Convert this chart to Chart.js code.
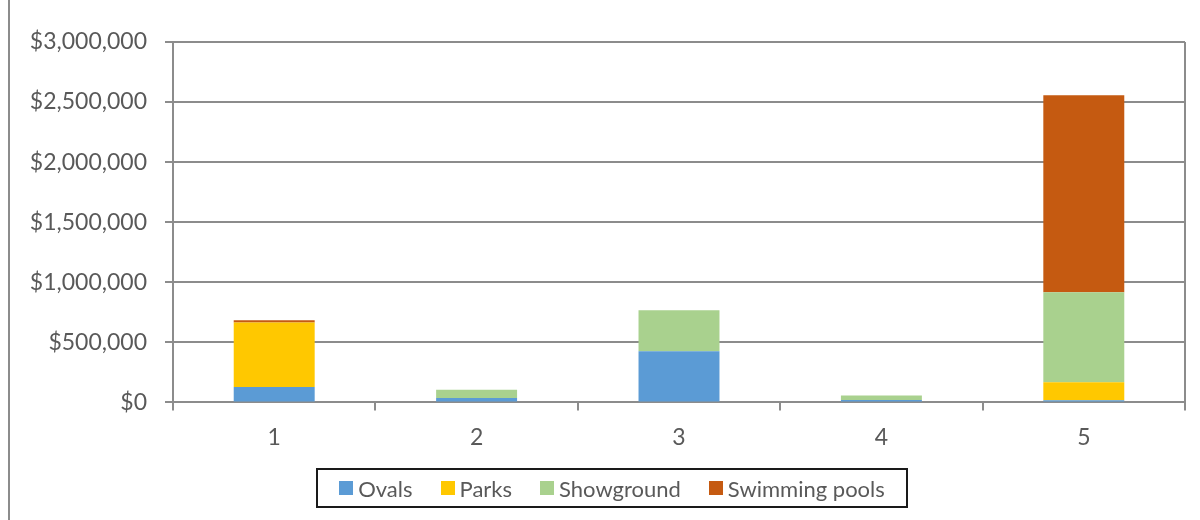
<!DOCTYPE html>
<html>
<head>
<meta charset="utf-8">
<script src="https://cdn.jsdelivr.net/npm/chart.js@4/dist/chart.umd.min.js"></script>
<style>
  html, body { margin: 0; padding: 0; background: #fff; }
  #wrap { position: relative; width: 1200px; height: 520px; overflow: hidden; }
  #frame { position: absolute; left: 8px; top: -10px; width: 1300px; height: 600px; border: 2px solid #8c8c8c; box-sizing: border-box; }
  #legend {
    position: absolute; left: 316px; top: 468px; width: 592px; height: 40px;
    border: 2px solid #1a1a1a; box-sizing: border-box;
    display: flex; align-items: center; justify-content: center; gap: 28px;
    font-family: Lato, "Noto Sans", sans-serif; font-size: 22px; color: #595959;
  }
  #legend span.item { display: flex; align-items: center; }
  #legend i { display: inline-block; width: 14px; height: 14px; margin-right: 5px; }
</style>
</head>
<body>
<div id="wrap">
  <div id="frame"></div>
  <canvas id="c" width="1200" height="520"></canvas>
  <div id="legend"></div>
</div>
<script>
const categories = ["1", "2", "3", "4", "5"];
const ovals = [129000, 36000, 425000, 19000, 17000];
const parks = [537000, 0, 0, 0, 150000];
const showground = [0, 70000, 342000, 39000, 750000];
const swimmingPools = [17000, 0, 0, 0, 1639000];
const yTicks = [0, 500000, 1000000, 1500000, 2000000, 2500000, 3000000];

const series = [
  { label: "Ovals", data: ovals, color: "#5b9bd5" },
  { label: "Parks", data: parks, color: "#ffc800" },
  { label: "Showground", data: showground, color: "#a9d18e" },
  { label: "Swimming pools", data: swimmingPools, color: "#c55a11" },
];

const fontFamily = 'Lato, "Noto Sans", sans-serif';
const gridColor = "#8c8c8c";

// right edge of the plot area
const frameRight = {
  id: "frameRight",
  afterDraw(chart) {
    const { ctx, chartArea } = chart;
    ctx.save();
    ctx.strokeStyle = gridColor;
    ctx.lineWidth = 2;
    ctx.beginPath();
    ctx.moveTo(chartArea.right, chartArea.top);
    ctx.lineTo(chartArea.right, chartArea.bottom);
    ctx.stroke();
    ctx.restore();
  }
};

new Chart(document.getElementById("c").getContext("2d"), {
  type: "bar",
  data: {
    labels: categories,
    datasets: series.map(s => ({
      label: s.label,
      data: s.data,
      backgroundColor: s.color,
      borderWidth: 0,
      categoryPercentage: 1,
      barPercentage: 0.4,
    })),
  },
  options: {
    responsive: false,
    animation: false,
    devicePixelRatio: 1,
    layout: { padding: { left: 10, right: 15, top: 42, bottom: 56 } },
    plugins: { legend: { display: false }, tooltip: { enabled: false } },
    scales: {
      x: {
        stacked: true,
        grid: { drawOnChartArea: false, drawTicks: true, tickLength: 8, color: gridColor, lineWidth: 2, offset: true },
        border: { color: gridColor, width: 2 },
        ticks: { color: "#595959", font: { family: fontFamily, size: 23 }, padding: 13 },
      },
      y: {
        stacked: true,
        min: 0,
        max: 3000000,
        afterFit: scale => { scale.width = 163; },
        afterBuildTicks: scale => { scale.ticks = yTicks.map(v => ({ value: v })); },
        grid: { color: gridColor, lineWidth: 2, tickLength: 8 },
        border: { color: gridColor, width: 2 },
        ticks: {
          color: "#595959",
          font: { family: fontFamily, size: 23 },
          padding: 18,
          callback: v => "$" + Number(v).toLocaleString("en-US"),
        },
      },
    },
  },
  plugins: [frameRight],
});

const legend = document.getElementById("legend");
series.forEach(s => {
  const item = document.createElement("span");
  item.className = "item";
  item.innerHTML = '<i style="background:' + s.color + '"></i>' + s.label;
  legend.appendChild(item);
});
</script>
</body>
</html>
